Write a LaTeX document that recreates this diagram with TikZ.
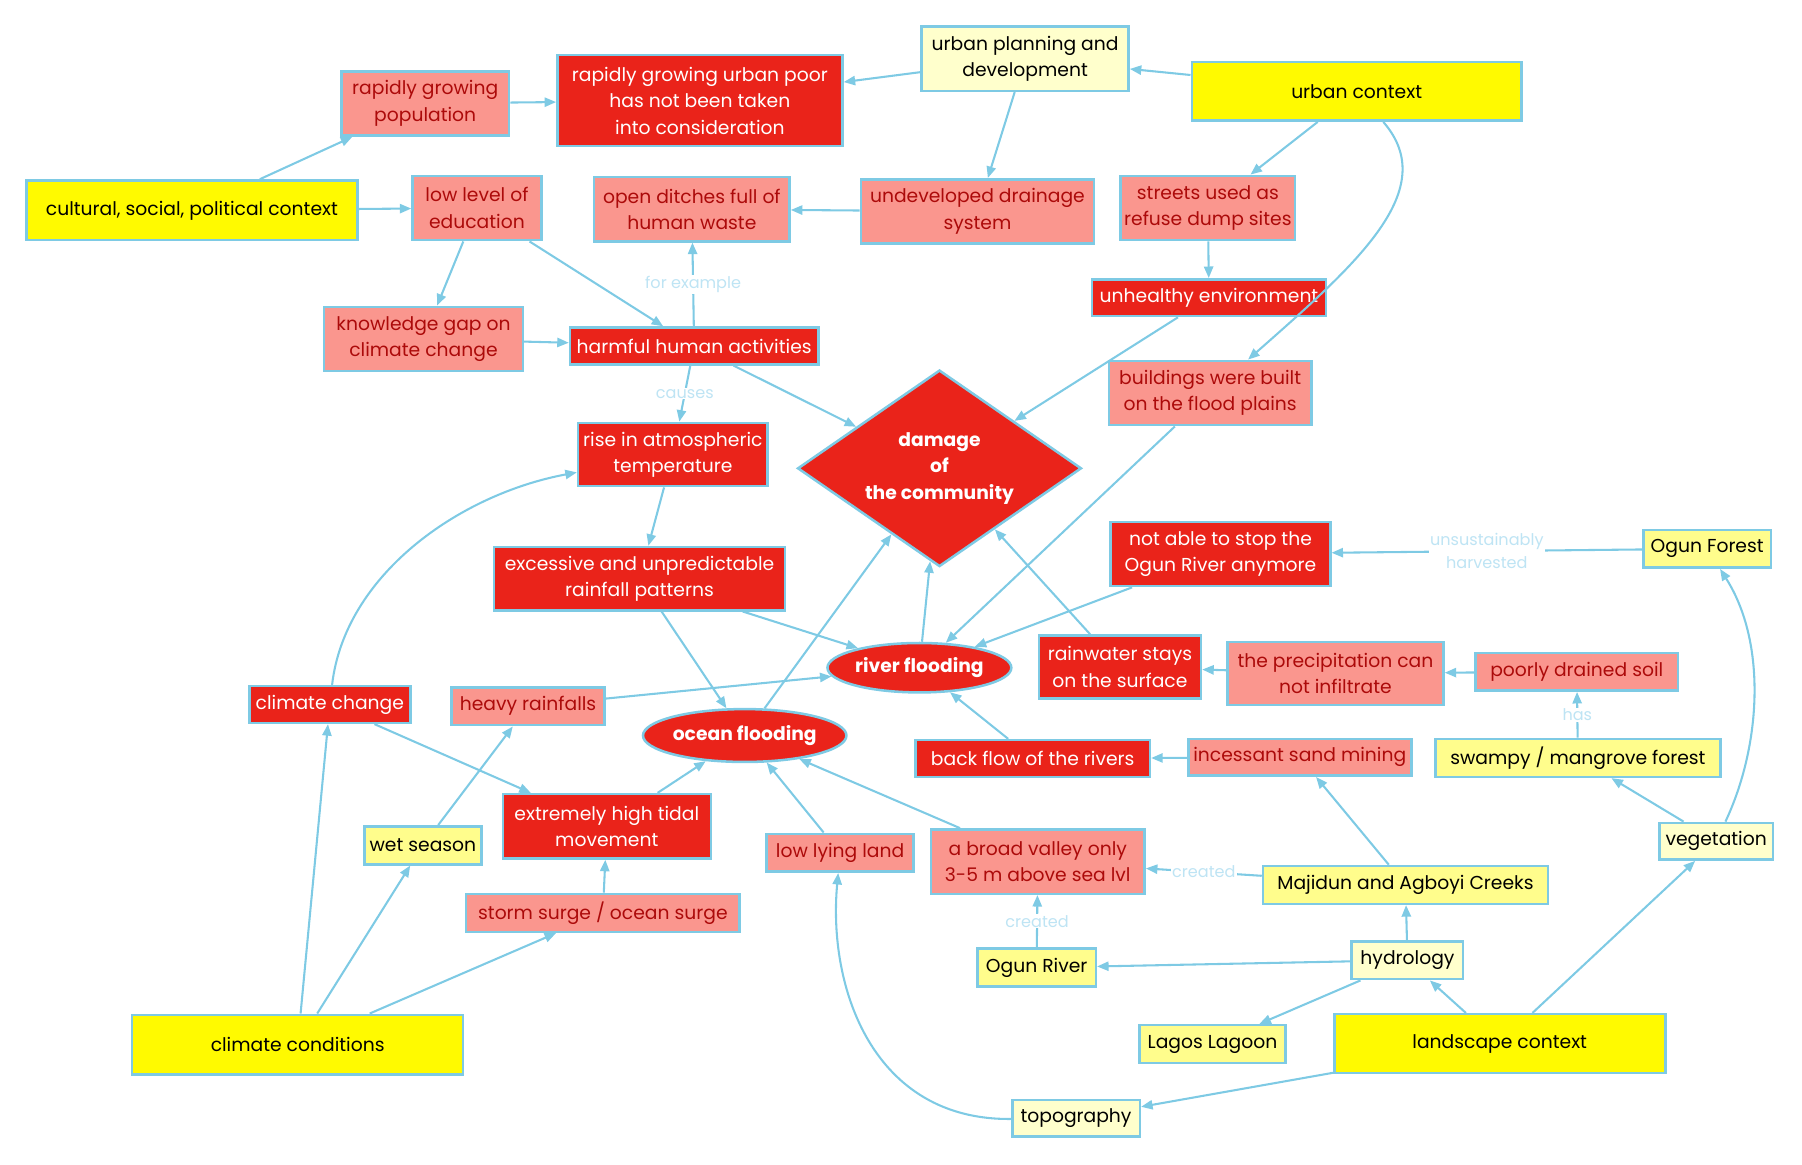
\documentclass[tikz,border=0pt]{standalone}
\usepackage{fontspec}
\setmainfont{Poppins}
\usepackage{tikz}
\usetikzlibrary{arrows.meta,shapes.geometric}
\usepackage{xcolor}
\definecolor{linkblue}{RGB}{126,202,228}
\definecolor{lablblue}{RGB}{190,228,244}
\definecolor{causered}{RGB}{234,35,26}
\definecolor{factpink}{RGB}{250,150,142}
\definecolor{factred}{RGB}{172,10,10}
\definecolor{ctxyellow}{RGB}{255,250,0}
\definecolor{midyellow}{RGB}{255,253,140}
\definecolor{paleyellow}{RGB}{255,255,204}

\begin{document}
\begin{tikzpicture}[x=1pt, y=-1pt,
    every node/.style={font=\fontsize{16.3}{23}\selectfont, align=center, draw=linkblue, line width=2.2pt, inner sep=1pt},
    sz/.style 2 args={minimum width=#1pt, minimum height=#2pt},
    ctx/.style={fill=ctxyellow, text=black},
    geo/.style={fill=midyellow, text=black},
    theme/.style={fill=paleyellow, text=black},
    fact/.style={fill=factpink, text=factred},
    cause/.style={fill=causered, text=white},
    flood/.style={ellipse, fill=causered, text=white, font=\fontsize{16.3}{23}\selectfont\bfseries, inner sep=0pt},
    link/.style={draw=linkblue, line width=1.8pt, -{Triangle[length=10pt,width=8pt]}},
    lbl/.style={draw=none, fill=white, text=lablblue, font=\fontsize{14}{20}\selectfont, inner sep=1pt}]
  \useasboundingbox (0,0) rectangle (1568,1013);
  % top row: urban and social context
  \node[theme, sz={180}{56}] (plan) at (892,51) {urban planning and\\development};
  \node[ctx, sz={287}{51}] (urbctx) at (1180.5,79.5) {urban context};
  \node[cause, sz={248}{79}] (poor) at (609,87.5) {rapidly growing urban poor\\has not been taken\\into consideration};
  \node[fact, sz={146}{56}] (pop) at (370,90) {rapidly growing\\population};
  \node[ctx, sz={288}{52}] (cult) at (167,183) {cultural, social, political context};
  \node[fact, sz={112}{56}] (edu) at (415,181) {low level of\\education};
  \node[fact, sz={170}{56}] (ditch) at (602,182) {open ditches full of\\human waste};
  \node[fact, sz={203}{56}] (drain) at (850.5,184) {undeveloped drainage\\system};
  \node[fact, sz={152}{56}] (street) at (1051,181) {streets used as\\refuse dump sites};
  \node[cause, sz={204}{32}] (unhealthy) at (1052,259) {unhealthy environment};
  \node[fact, sz={173}{56}] (gap) at (368.5,295) {knowledge gap on\\climate change};
  \node[cause, sz={216}{32}] (harm) at (604,301) {harmful human activities};
  \node[fact, sz={176}{56}] (build) at (1053,342) {buildings were built\\on the flood plains};
  % middle: causes and floods
  \node[cause, sz={165}{55}] (rise) at (585.5,395.5) {rise in atmospheric\\temperature};
  \node[diamond, cause, sz={247}{171}, aspect=1.45, inner sep=0pt, font=\fontsize{16.3}{23}\selectfont\bfseries] (damage) at (817.5,407.5) {damage\\of\\the community};
  \node[cause, sz={253}{55}] (rainfall) at (556.5,503.5) {excessive and unpredictable\\rainfall patterns};
  \node[cause, sz={191}{56}] (stop) at (1062,482) {not able to stop the\\Ogun River anymore};
  \node[geo, sz={111}{33}] (forest) at (1485.5,477.5) {Ogun Forest};
  \node[flood, sz={160}{43}] (river) at (800,581) {river flooding};
  \node[cause, sz={141}{55}] (stay) at (974.5,580.5) {rainwater stays\\on the surface};
  \node[fact, sz={188}{55}] (infil) at (1162,586) {the precipitation can\\not infiltrate};
  \node[fact, sz={176}{33}] (soil) at (1372,584.5) {poorly drained soil};
  \node[cause, sz={140}{32}] (climchg) at (287,613) {climate change};
  \node[fact, sz={133}{33}] (heavy) at (459.5,614.5) {heavy rainfalls};
  \node[flood, sz={174}{46}] (ocean) at (648,640) {ocean flooding};
  \node[cause, sz={204}{32}] (backflow) at (898.6,660) {back flow of the rivers};
  \node[fact, sz={194}{32}] (sand) at (1131,659) {incessant sand mining};
  \node[geo, sz={248}{33}] (swamp) at (1373,659.5) {swampy / mangrove forest};
  \node[cause, sz={181}{56}] (tidal) at (528,719) {extremely high tidal\\movement};
  \node[geo, sz={102}{33}] (wet) at (368,735.5) {wet season};
  \node[fact, sz={128}{33}] (lowland) at (731,742) {low lying land};
  \node[fact, sz={186}{56}] (valley) at (903,749.7) {a broad valley only\\3-5 m above sea lvl};
  \node[theme, sz={99}{32}] (veg) at (1493.3,732) {vegetation};
  \node[geo, sz={248}{33}] (creeks) at (1223,770) {Majidun and Agboyi Creeks};
  % bottom: climate and landscape context
  \node[fact, sz={238}{33}] (surge) at (524.6,794.3) {storm surge / ocean surge};
  \node[geo, sz={103}{33}] (ogunriv) at (902,842) {Ogun River};
  \node[theme, sz={97}{33}] (hydro) at (1224.7,835.5) {hydrology};
  \node[ctx, sz={288}{52}] (climcond) at (259,909) {climate conditions};
  \node[geo, sz={127}{33}] (lagoon) at (1055,908.5) {Lagos Lagoon};
  \node[ctx, sz={288}{51}] (land) at (1305,908) {landscape context};
  \node[theme, sz={111}{32}] (topo) at (936.3,973) {topography};

  % urban links
  \draw[link] (urbctx) -- (plan);
  \draw[link] (plan) -- (poor);
  \draw[link] (pop) -- (poor);
  \draw[link] (plan) -- (drain);
  \draw[link] (drain) -- (ditch);
  \draw[link] (urbctx) -- (street);
  \draw[link] (street) -- (unhealthy);
  \draw[link] (urbctx) .. controls (1255,165) and (1180,230) .. (build);
  \draw[link] (unhealthy) -- (damage);
  % social links
  \draw[link] (cult) -- (pop);
  \draw[link] (cult) -- (edu);
  \draw[link] (edu) -- (gap);
  \draw[link] (edu) -- (harm);
  \draw[link] (gap) -- (harm);
  \draw[link] (harm) -- node[lbl] {for example} (ditch);
  \draw[link] (harm) -- node[lbl] {causes} (rise);
  \draw[link] (harm) -- (damage);
  % climate links
  \draw[link] (rise) -- (rainfall);
  \draw[link] (climchg) .. controls (300,500) and (400,430) .. (rise);
  \draw[link] (rainfall) -- (river);
  \draw[link] (rainfall) -- (ocean);
  \draw[link] (heavy) -- (river);
  \draw[link] (ocean) -- (damage);
  \draw[link] (river) -- (damage);
  \draw[link] (build) -- (river);
  \draw[link] (stop) -- (river);
  \draw[link] (stay) -- (damage);
  \draw[link] (infil) -- (stay);
  \draw[link] (soil) -- (infil);
  \draw[link] (forest) -- node[lbl] {unsustainably\\harvested} (stop);
  \draw[link] (swamp) -- node[lbl] {has} (soil);
  \draw[link] (backflow) -- (river);
  \draw[link] (sand) -- (backflow);
  \draw[link] (climchg) -- (tidal);
  \draw[link] (tidal) -- (ocean);
  \draw[link] (lowland) -- (ocean);
  \draw[link] (valley) -- (ocean);
  \draw[link] (wet) -- (heavy);
  \draw[link] (surge) -- (tidal);
  \draw[link] (climcond) -- (climchg);
  \draw[link] (climcond) -- (wet);
  \draw[link] (climcond) -- (surge);
  % landscape links
  \draw[link] (creeks) -- node[lbl] {created} (valley);
  \draw[link] (creeks) -- (sand);
  \draw[link] (ogunriv) -- node[lbl] {created} (valley);
  \draw[link] (hydro) -- (ogunriv);
  \draw[link] (hydro) -- (creeks);
  \draw[link] (hydro) -- (lagoon);
  \draw[link] (land) -- (hydro);
  \draw[link] (land) -- (veg);
  \draw[link] (land) -- (topo);
  \draw[link] (topo) .. controls (760,975) and (720,860) .. (lowland);
  \draw[link] (veg) -- (swamp);
  \draw[link] (veg) .. controls (1532,650) and (1538,560) .. (forest);
\end{tikzpicture}
\end{document}
